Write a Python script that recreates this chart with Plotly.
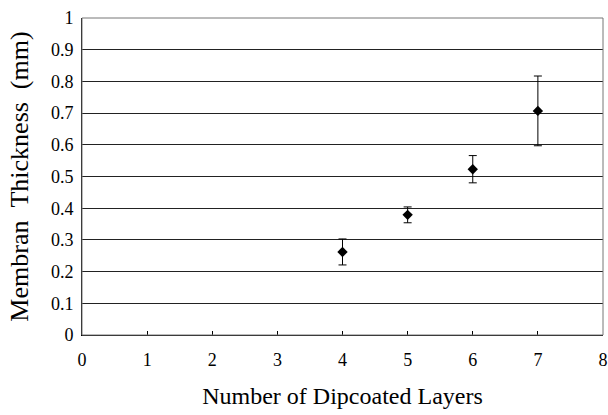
import plotly.graph_objects as go

layers = [4, 5, 6, 7]
thickness = [0.262, 0.379, 0.523, 0.707]
err = [0.041, 0.025, 0.043, 0.11]

x_ticks = [0, 1, 2, 3, 4, 5, 6, 7, 8]
y_ticks = [0, 0.1, 0.2, 0.3, 0.4, 0.5, 0.6, 0.7, 0.8, 0.9, 1]
y_tick_text = ["0", "0.1", "0.2", "0.3", "0.4", "0.5", "0.6", "0.7", "0.8", "0.9", "1"]

font = "Liberation Serif, DejaVu Serif, serif"

fig = go.Figure()
fig.add_trace(go.Scatter(
    x=layers, y=thickness, mode="markers",
    marker=dict(symbol="diamond", size=8, color="black"),
    error_y=dict(type="data", array=err, visible=True, color="black", thickness=1, width=4),
    showlegend=False, hoverinfo="skip",
))

fig.update_layout(
    width=608, height=415,
    margin=dict(l=82, r=5, t=18, b=80),
    paper_bgcolor="white", plot_bgcolor="white",
    font=dict(family=font, color="black", size=18),
    xaxis=dict(
        range=[0, 8], tickvals=x_ticks, ticktext=[str(v) for v in x_ticks],
        showgrid=False, zeroline=False, automargin=False,
        showline=True, linecolor="black", linewidth=1, mirror=False,
        ticks="inside", ticklen=4, tickcolor="black", ticklabelstandoff=8,
        tickfont=dict(family=font, size=18, color="black"),
        title=dict(text="Number of Dipcoated Layers", font=dict(family=font, size=24, color="black"), standoff=18),
    ),
    yaxis=dict(
        range=[0, 1], tickvals=y_ticks, ticktext=y_tick_text,
        showgrid=True, gridcolor="#222", gridwidth=1, zeroline=False, automargin=False,
        showline=True, linecolor="black", linewidth=1,
        ticks="", ticklabelstandoff=4, tickfont=dict(family=font, size=18, color="black"),
        title=dict(text="Membran \u00a0Thickness \u00a0(mm)", font=dict(family=font, size=26, color="black"), standoff=14),
    ),
    shapes=[
        dict(type="rect", xref="paper", yref="paper", x0=0, x1=1, y0=0, y1=1,
             line=dict(color="#777", width=1), layer="above"),
    ],
)

fig.write_html("out.html", config={"displayModeBar": False},
               post_script="document.body.style.margin='0';document.body.style.overflow='hidden';")
